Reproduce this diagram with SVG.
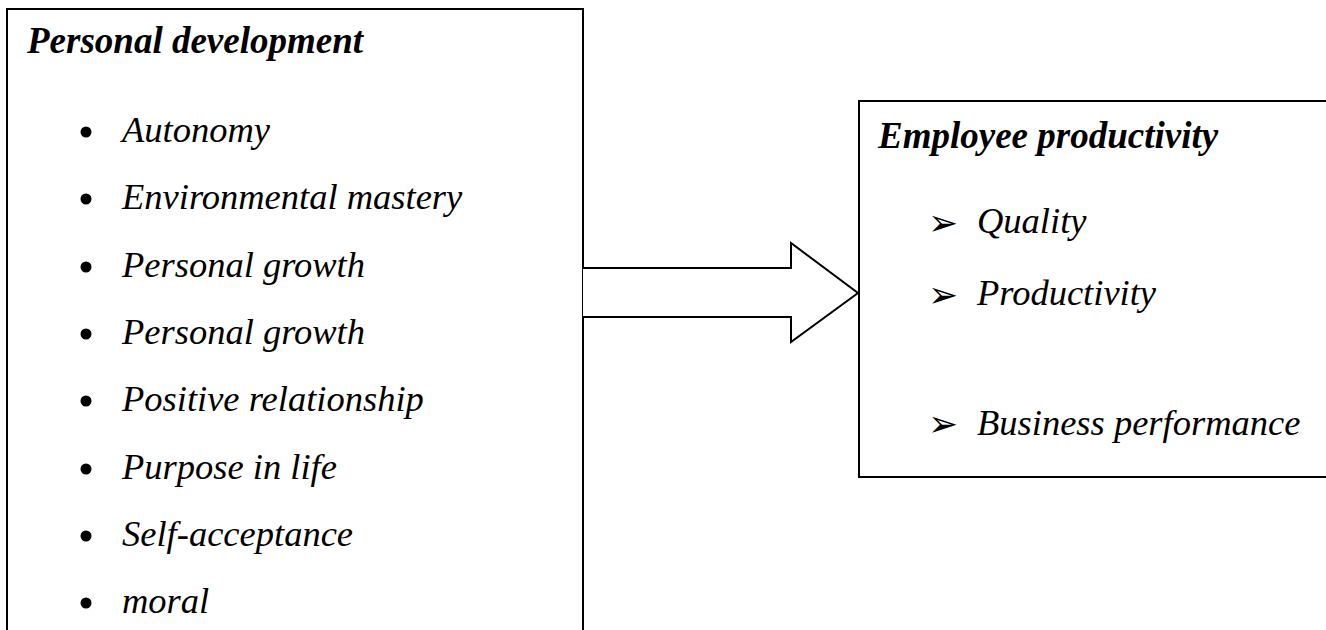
<svg xmlns="http://www.w3.org/2000/svg" width="1326" height="630" viewBox="0 0 1326 630">
<style>
.box{fill:#fff;stroke:#000;stroke-width:2}
.h{font-family:"Liberation Serif",serif;font-style:italic;font-weight:bold;font-size:37px;fill:#000}
.t{font-family:"Liberation Serif",serif;font-style:italic;font-size:36.5px;fill:#000}
.ar{font-family:"DejaVu Sans",sans-serif;font-size:36px;fill:#000}
.arrow{fill:#fff;stroke:#000;stroke-width:2;stroke-linejoin:miter}
</style>
<rect width="1326" height="630" fill="#fff"/>
<g id="personal-development">
<path class="box" d="M7,640 V9 H583 V640"/>
<text class="h" x="27" y="53">Personal development</text>
<g fill="#000">
<circle cx="86" cy="132" r="5.5"/>
<circle cx="86" cy="199" r="5.5"/>
<circle cx="86" cy="267" r="5.5"/>
<circle cx="86" cy="334" r="5.5"/>
<circle cx="86" cy="401" r="5.5"/>
<circle cx="86" cy="469" r="5.5"/>
<circle cx="86" cy="536" r="5.5"/>
<circle cx="86" cy="603" r="5.5"/>
</g>
<text class="t" x="122" y="142">Autonomy</text>
<text class="t" x="122" y="209">Environmental mastery</text>
<text class="t" x="122" y="277">Personal growth</text>
<text class="t" x="122" y="344">Personal growth</text>
<text class="t" x="122" y="411">Positive relationship</text>
<text class="t" x="122" y="479">Purpose in life</text>
<text class="t" x="122" y="546">Self-acceptance</text>
<text class="t" x="122" y="613">moral</text>
</g>
<g id="connectors">
<path class="arrow" d="M583,268 H791 V243 L858,293 L791,342 V317 H583"/>
</g>
<g id="employee-productivity">
<path class="box" d="M1330,101 H859 V477 H1330"/>
<text class="h" x="878" y="148">Employee productivity</text>
<text class="ar" x="928" y="235">➢</text>
<text class="ar" x="928" y="307">➢</text>
<text class="ar" x="928" y="436">➢</text>
<text class="t" x="977" y="233">Quality</text>
<text class="t" x="977" y="305">Productivity</text>
<text class="t" x="977" y="435">Business performance</text>
</g>
</svg>
